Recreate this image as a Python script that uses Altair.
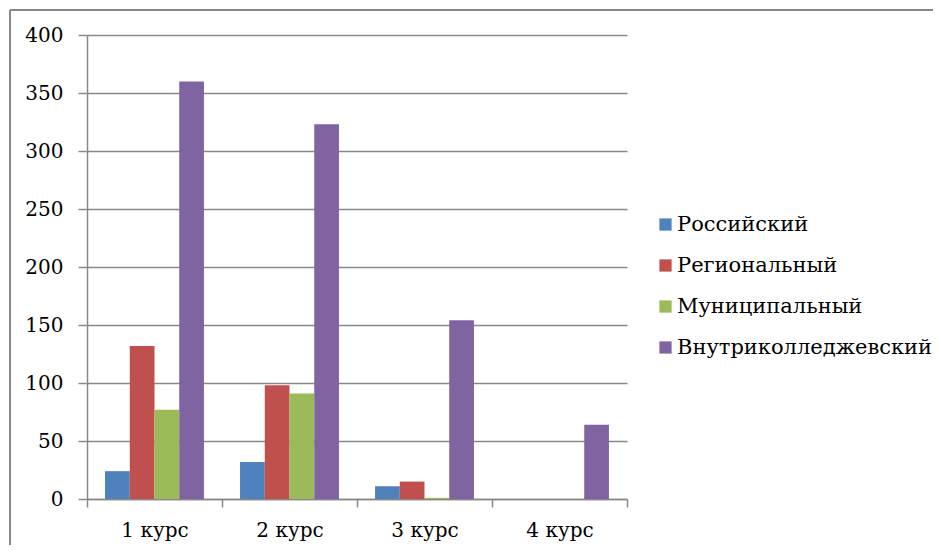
import altair as alt
import pandas as pd

courses = ["1 курс", "2 курс", "3 курс", "4 курс"]
series = ["Российский", "Региональный", "Муниципальный", "Внутриколледжевский"]
colors = ["#4F81BD", "#C0504D", "#9BBB59", "#8064A2"]
russian = [24, 32, 11, 0]
regional = [132, 98, 15, 0]
municipal = [77, 91, 1, 0]
college = [360, 323, 154, 64]

rows = []
for s, vals in zip(series, [russian, regional, municipal, college]):
    for c, v in zip(courses, vals):
        rows.append({"course": c, "type": s, "value": v})
df = pd.DataFrame(rows)

FONT = "DejaVu Serif"

bars = alt.Chart(df).mark_bar().encode(
    x=alt.X("course:N", sort=courses, title=None,
            scale=alt.Scale(paddingInner=0, paddingOuter=0),
            axis=alt.Axis(labelAngle=0, tickBand="extent", tickSize=8, tickColor="#888888",
                          tickWidth=1.5, domainColor="#888888", domainWidth=1.5,
                          labelFont=FONT, labelFontSize=20, labelColor="black",
                          labelPadding=13, grid=False)),
    xOffset=alt.XOffset("type:N", sort=series,
                        scale=alt.Scale(paddingInner=0, paddingOuter=0.73)),
    y=alt.Y("value:Q", title=None,
            scale=alt.Scale(domain=[0, 400], nice=False),
            axis=alt.Axis(values=list(range(0, 401, 50)), tickSize=9, tickColor="#888888",
                          tickWidth=1.5, domainColor="#888888", domainWidth=1.5,
                          gridColor="#888888", gridWidth=1.5,
                          labelFont=FONT, labelFontSize=20, labelColor="black",
                          labelPadding=15)),
    color=alt.Color("type:N", sort=series, title=None,
                    scale=alt.Scale(domain=series, range=colors),
                    legend=alt.Legend(orient="none", legendX=568, legendY=179,
                                      symbolType="square", symbolSize=150,
                                      symbolStrokeWidth=0, labelFont=FONT,
                                      labelFontSize=21, labelColor="black",
                                      labelOffset=1, rowPadding=19, labelLimit=0)),
)

frame_top = alt.Chart(df).mark_rule(color="#888888", strokeWidth=1.5).encode(
    x=alt.value(-77), x2=alt.value(900), y=alt.value(-25)
)
frame_left = alt.Chart(df).mark_rule(color="#888888", strokeWidth=1.5).encode(
    x=alt.value(-77), y=alt.value(-25), y2=alt.value(600)
)

chart = alt.layer(bars, frame_top, frame_left).properties(
    width=540, height=464,
    autosize=alt.AutoSizeParams(type="none"),
    padding={"left": 79, "top": 27, "right": 306, "bottom": 46},
).configure(font=FONT).configure_view(stroke=None)

chart.save("out.html", embed_options={"renderer": "svg", "actions": False})
